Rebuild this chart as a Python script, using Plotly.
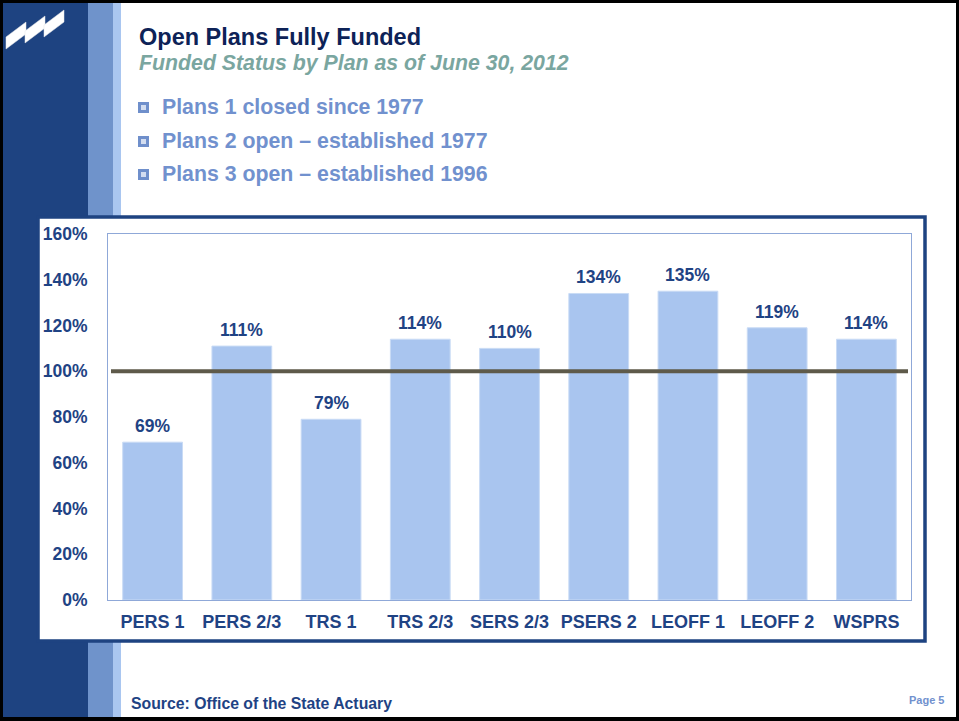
import plotly.graph_objects as go

# ---- data ----
categories = ["PERS 1", "PERS 2/3", "TRS 1", "TRS 2/3", "SERS 2/3", "PSERS 2", "LEOFF 1", "LEOFF 2", "WSPRS"]
funded_pct = [69, 111, 79, 114, 110, 134, 135, 119, 114]
y_ticks = [0, 20, 40, 60, 80, 100, 120, 140, 160]
y_tick_labels = [f"{v}%" for v in y_ticks]
full_funding = 100

title = "Open Plans Fully Funded"
subtitle = "Funded Status by Plan as of June 30, 2012"
bullets = ["Plans 1 closed since 1977", "Plans 2 open \u2013 established 1977", "Plans 3 open \u2013 established 1996"]
source = "Source: Office of the State Actuary"
page = "Page 5"

# ---- layout geometry (pixels) ----
W, H = 959, 721
PL, PR, PT, PB = 108, 911, 234, 600
FONT = "Arial, 'Liberation Sans', sans-serif"
DARK = "#1F4384"
NAVY = "#0D2257"
BAR = "#A9C5EF"


def px(x):
    return (x - PL) / (PR - PL)


def py(y):
    return (PB - y) / (PB - PT)


def rect(x0, y0, x1, y1, fill, line=None, lw=0, layer="below"):
    d = dict(type="rect", xref="paper", yref="paper",
             x0=px(x0), x1=px(x1), y0=py(y1), y1=py(y0),
             fillcolor=fill, layer=layer)
    d["line"] = dict(color=line, width=lw) if line else dict(width=0)
    return d


fig = go.Figure()
fig.add_trace(go.Bar(
    x=categories, y=funded_pct,
    marker=dict(color=BAR, line=dict(color="#C9DBF5", width=1)),
    width=0.67, hoverinfo="x+y",
))

shapes = []
# slide background and side bands
shapes.append(rect(3, 3, 956, 717, "white"))
shapes.append(rect(3, 3, 88, 717, "#1E4381"))
shapes.append(rect(88, 3, 113, 717, "#6F93CB"))
shapes.append(rect(113, 3, 121, 717, "#A9C6F0"))
# chart frame
shapes.append(rect(38, 217, 925, 641, "white", "#1E4381", 3.5))
# logo zigzag (three slanted strokes)
for k in range(3):
    x0 = 6 + 19 * k
    x1 = x0 + 20
    yt = 37 - 6 * k
    pts = [(x0, yt), (x1, yt - 15), (x1, yt - 3), (x0, yt + 12)]
    path = "M " + " L ".join(f"{px(a)},{py(b)}" for a, b in pts) + " Z"
    shapes.append(dict(type="path", xref="paper", yref="paper", path=path,
                       fillcolor="white", line=dict(color="#E6E6E6", width=0.5), layer="above"))
# bullet squares
bullet_y = [107, 141, 174]
for yb in bullet_y:
    shapes.append(rect(138, yb - 5, 149, yb + 6, "#6F8FCB", layer="above"))
    shapes.append(rect(141, yb - 2, 146, yb + 3, "#D3DDF0", layer="above"))
# 100% line
shapes.append(dict(type="line", xref="paper", yref="y", x0=px(111), x1=px(908),
                   y0=full_funding, y1=full_funding, line=dict(color="#5E5A4A", width=4), layer="above"))

annotations = []
for c, v in zip(categories, funded_pct):
    annotations.append(dict(x=c, y=v, xref="x", yref="y", text=f"{v}%", showarrow=False,
                            yanchor="bottom", yshift=4,
                            font=dict(family=FONT, size=17.5, color=DARK, weight="bold")))


def txt(x, y, s, size, color, italic=False, anchor="left"):
    return dict(x=px(x), y=py(y), xref="paper", yref="paper", text=s, showarrow=False,
                xanchor=anchor, yanchor="middle",
                font=dict(family=FONT, size=size, color=color, weight="bold",
                          style="italic" if italic else "normal"))


annotations.append(txt(137, 37, title, 23.5, NAVY))
annotations.append(txt(137, 63, subtitle, 21.3, "#7AA6A0", italic=True))
for yb, b in zip(bullet_y, bullets):
    annotations.append(txt(160, yb, b, 21.3, "#7191CE"))
annotations.append(txt(129, 703, source, 15.8, DARK))
annotations.append(txt(946, 700, page, 11, "#7191CE", anchor="right"))

fig.update_layout(
    width=W, height=H,
    margin=dict(l=PL, r=W - PR, t=PT, b=H - PB, pad=0),
    paper_bgcolor="black", plot_bgcolor="white",
    showlegend=False, bargap=0.33,
    shapes=shapes, annotations=annotations,
    font=dict(family=FONT, color=DARK),
    xaxis=dict(showline=True, linecolor="#8FA8D8", linewidth=1, mirror=True,
               showgrid=False, ticks="", ticklabelstandoff=5,
               tickfont=dict(family=FONT, size=18, color=DARK, weight="bold")),
    yaxis=dict(range=[0, 160], tickvals=y_ticks, ticktext=y_tick_labels,
               showline=True, linecolor="#8FA8D8", linewidth=1, mirror=True,
               showgrid=False, zeroline=False, ticks="", ticklabelstandoff=16,
               tickfont=dict(family=FONT, size=17.5, color=DARK, weight="bold")),
)

fig.write_html("out.html")
